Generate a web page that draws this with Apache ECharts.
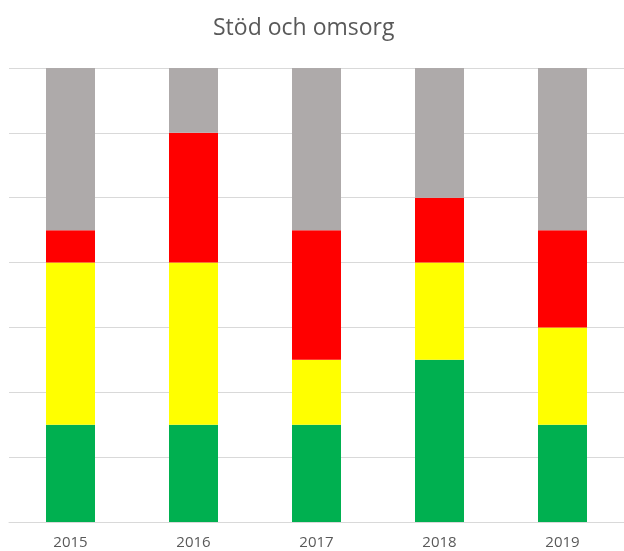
<!DOCTYPE html>
<html>
<head>
<meta charset="utf-8">
<script src="https://cdn.jsdelivr.net/npm/echarts@6/dist/echarts.min.js"></script>
<style>
html, body { margin: 0; padding: 0; background: #ffffff; }
#chart { width: 624px; height: 551px; }
</style>
</head>
<body>
<div id="chart"></div>
<script>
// values in half-steps of the gridline spacing (each column totals 14)
var years = ['2015', '2016', '2017', '2018', '2019']
var green = [3, 3, 3, 5, 3]
var yellow = [5, 5, 2, 3, 3]
var red = [1, 4, 4, 2, 3]
var gray = [5, 2, 5, 4, 5]

var chart = echarts.init(document.getElementById('chart'))

function bar (name, data, color) {
  return {
    name: name,
    type: 'bar',
    stack: 'total',
    barWidth: 49,
    data: data,
    itemStyle: { color: color },
    emphasis: { disabled: true }
  }
}

chart.setOption({
  animation: false,
  title: {
    text: 'Stöd och omsorg',
    left: 208,
    top: 12,
    textStyle: {
      fontFamily: 'Open Sans',
      fontSize: 23,
      fontWeight: 'normal',
      color: '#595959'
    }
  },
  grid: { left: 9, top: 68, right: -7, bottom: 29 },
  xAxis: {
    type: 'category',
    data: years,
    axisLine: { show: true, lineStyle: { color: '#d9d9d9' } },
    axisTick: { show: false },
    axisLabel: {
      margin: 13,
      fontFamily: 'Open Sans',
      fontSize: 15,
      color: '#595959'
    }
  },
  yAxis: {
    type: 'value',
    min: 0,
    max: 14,
    interval: 2,
    axisLabel: { show: false },
    axisLine: { show: false },
    axisTick: { show: false },
    splitLine: { lineStyle: { color: '#d9d9d9', width: 1 } }
  },
  series: [
    bar('Grön', green, '#00b050'),
    bar('Gul', yellow, '#ffff00'),
    bar('Röd', red, '#ff0000'),
    bar('Grå', gray, '#aeaaaa')
  ]
})
</script>
</body>
</html>
